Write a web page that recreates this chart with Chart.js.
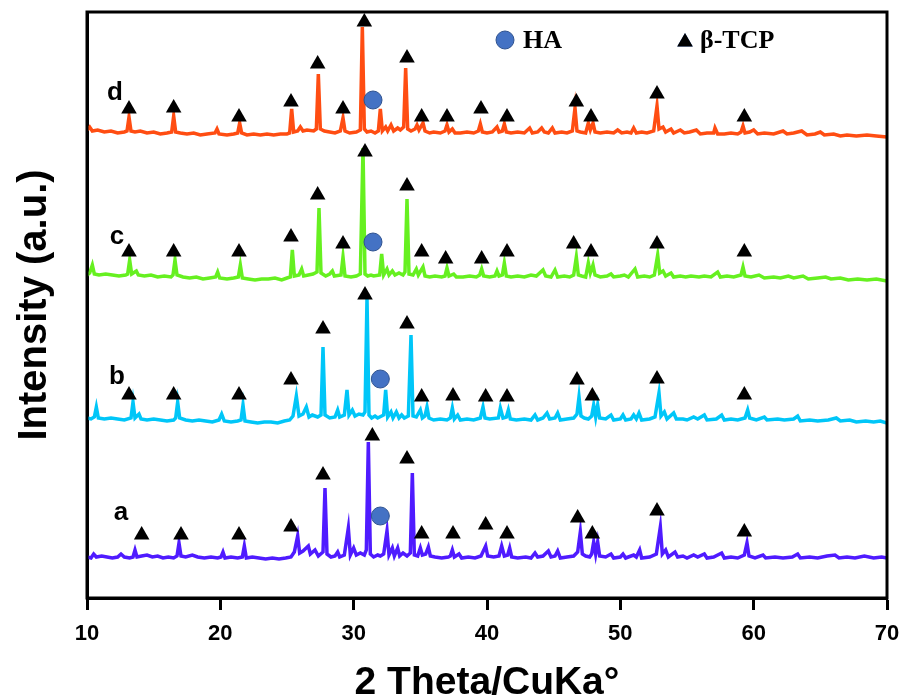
<!DOCTYPE html>
<html>
<head>
<meta charset="utf-8">
<script src="https://cdn.jsdelivr.net/npm/chart.js@4.4.1/dist/chart.umd.min.js"></script>
<style>
  html, body { margin: 0; padding: 0; background: #fff; }
  #wrap { width: 905px; height: 699px; }
</style>
</head>
<body>
<div id="wrap"><canvas id="xrd"></canvas></div>
<script>
// vertical offsets used to stack the patterns
const offsetA = 40, offsetB = 178, offsetC = 321, offsetD = 465;

// [2theta, intensity]
const traceA = [[10,1],[10.3,0],[10.5,4],[10.7,1],[11.1,2],[11.5,1],[11.9,0],[12.3,1],[12.55,4],[12.8,1],[13.2,0],[13.45,1],[13.6,8],[13.75,1],[14.1,2],[14.5,3],[14.9,1],[15.3,2],[15.7,0],[16.1,1],[16.5,0],[16.75,2],[16.9,15],[17.05,2],[17.4,1],[17.9,3],[18.3,1],[18.8,0],[19.3,1],[19.8,0],[20.05,1],[20.2,6],[20.35,0],[20.8,1],[21.3,0],[21.65,1],[21.8,12],[21.95,0],[22.4,1],[22.9,0],[23.4,-1],[23.9,0],[24.4,-1],[24.9,0],[25.3,1],[25.55,6],[25.8,22],[25.95,5],[26.2,7],[26.6,12],[26.75,4],[27.1,8],[27.35,2],[27.7,6],[27.85,70],[28,4],[28.3,1],[28.6,2],[28.8,6],[28.95,1],[29.3,3],[29.6,30],[29.75,3],[30,10],[30.2,3],[30.5,5],[30.8,3],[30.95,8],[31.1,116],[31.25,4],[31.5,1],[31.8,3],[32,2],[32.25,4],[32.5,27],[32.65,3],[32.9,10],[33.05,2],[33.3,10],[33.45,2],[33.7,5],[34,2],[34.25,5],[34.4,85],[34.55,3],[34.8,2],[35,10],[35.15,3],[35.4,4],[35.6,11],[35.75,2],[36.1,1],[36.6,0],[37.1,1],[37.25,2],[37.4,8],[37.55,1],[37.9,4],[38.1,0],[38.6,1],[39.1,0],[39.55,2],[39.9,12],[40.05,2],[40.5,1],[40.9,2],[41.1,12],[41.3,2],[41.55,3],[41.7,10],[41.85,1],[42.3,0],[42.9,1],[43.3,0],[43.6,5],[43.8,1],[44.2,2],[44.6,7],[44.8,1],[45.1,2],[45.3,7],[45.5,0],[46,1],[46.5,2],[46.8,6],[47,26],[47.15,4],[47.4,2],[47.7,1],[47.85,4],[48,16],[48.15,4],[48.3,16],[48.45,2],[48.9,1],[49.3,4],[49.5,0],[50,1],[50.2,4],[50.4,0],[51,3],[51.2,1],[51.45,8],[51.6,0],[52.2,1],[52.7,4],[53,31],[53.15,4],[53.4,8],[53.6,1],[54.1,6],[54.3,1],[54.7,2],[55,0],[55.5,3],[55.8,1],[56.3,4],[56.5,0],[57,1],[57.6,5],[57.8,0],[58.3,1],[58.8,0],[59.3,3],[59.5,15],[59.65,2],[60.1,0],[60.7,3],[60.9,0],[61.6,1],[62.2,0],[62.9,1],[63.3,4],[63.5,0],[64.2,1],[64.8,0],[65.5,2],[66.1,3],[66.4,0],[67,1],[67.6,0],[68.3,2],[69,0],[69.6,1],[70,0]];

const traceB = [[10,2],[10.3,1],[10.55,3],[10.7,13],[10.85,2],[11.3,1],[11.8,2],[12.3,1],[12.8,0],[13.3,2],[13.45,18],[13.6,2],[13.9,6],[14.05,1],[14.5,0],[15,1],[15.5,0],[16,-1],[16.5,0],[16.65,2],[16.8,18],[16.95,2],[17.4,0],[17.9,-1],[18.4,0],[18.9,-1],[19.4,-2],[19.9,0],[20.1,6],[20.3,-1],[20.8,-2],[21.3,-1],[21.55,0],[21.7,15],[21.85,-1],[22.3,-2],[22.8,-3],[23.3,-2],[23.8,-2],[24.3,-3],[24.8,-1],[25.2,0],[25.45,4],[25.7,24],[25.9,4],[26.2,6],[26.45,13],[26.65,3],[26.9,5],[27.3,3],[27.55,5],[27.7,73],[27.85,5],[28.2,2],[28.6,3],[28.8,10],[28.95,3],[29.3,5],[29.5,30],[29.65,5],[29.9,10],[30.1,4],[30.4,6],[30.7,5],[30.85,8],[31,122],[31.15,5],[31.35,2],[31.6,4],[31.8,2],[32.1,4],[32.25,5],[32.4,30],[32.55,3],[32.8,8],[32.95,2],[33.2,8],[33.4,2],[33.6,5],[33.8,2],[34.1,4],[34.3,85],[34.45,4],[34.7,3],[35,10],[35.15,2],[35.35,4],[35.5,13],[35.65,2],[36,0],[36.5,1],[37,0],[37.25,2],[37.4,12],[37.55,1],[37.8,5],[38,0],[38.5,1],[39,0],[39.5,2],[39.7,13],[39.85,2],[40.2,1],[40.85,2],[41,12],[41.2,2],[41.45,3],[41.6,10],[41.75,1],[42.2,0],[42.8,1],[43.3,0],[43.6,5],[43.8,0],[44.2,2],[44.5,7],[44.7,1],[45.1,2],[45.3,7],[45.5,0],[46,1],[46.5,2],[46.75,6],[46.9,23],[47.05,4],[47.3,2],[47.6,1],[47.85,4],[48,15],[48.15,3],[48.3,15],[48.45,2],[48.9,1],[49.3,5],[49.5,0],[50,1],[50.2,5],[50.4,0],[50.8,1],[51,5],[51.2,1],[51.4,7],[51.6,0],[52.2,1],[52.6,3],[52.9,27],[53.05,4],[53.3,8],[53.5,1],[54,7],[54.2,1],[54.7,1],[55,0],[55.5,3],[55.8,1],[56.3,5],[56.5,0],[57.2,1],[57.6,5],[57.8,0],[58.3,1],[58.8,0],[59.35,2],[59.55,10],[59.7,2],[60.2,0],[60.8,3],[61,0],[61.8,1],[62.3,0],[63,1],[63.3,4],[63.5,-1],[64.2,0],[64.8,-1],[65.6,0],[66.2,2],[66.5,-1],[67.2,0],[67.7,-2],[68.4,-1],[69,-2],[69.5,-1],[70,-3]];

const traceC = [[10,2],[10.2,4],[10.4,12],[10.55,3],[10.9,2],[11.4,3],[11.9,2],[12.4,1],[12.9,2],[13.05,3],[13.2,17],[13.35,3],[13.7,6],[13.85,2],[14.3,1],[14.8,2],[15.3,0],[15.8,1],[16.3,0],[16.45,2],[16.6,17],[16.75,2],[17.2,0],[17.7,-1],[18.2,0],[18.7,-2],[19.2,-1],[19.65,0],[19.8,5],[19.95,-1],[20.5,-2],[21,-1],[21.35,0],[21.5,12],[21.65,-1],[22.1,-2],[22.6,-3],[23.1,-2],[23.6,-2],[24.1,-1],[24.6,-3],[25,-1],[25.25,0],[25.4,27],[25.55,1],[25.9,2],[26.1,8],[26.25,1],[26.6,2],[26.95,3],[27.25,5],[27.4,69],[27.55,4],[27.9,1],[28.2,3],[28.4,6],[28.55,1],[29.05,2],[29.2,20],[29.35,1],[29.8,0],[30.2,1],[30.5,3],[30.7,129],[30.85,3],[31.05,1],[31.3,2],[31.5,1],[31.95,2],[32.1,23],[32.25,2],[32.5,8],[32.65,2],[32.9,6],[33.1,2],[33.4,4],[33.7,2],[33.85,5],[34,78],[34.15,3],[34.45,2],[34.7,8],[34.85,2],[35.2,10],[35.35,1],[35.7,0],[36.1,1],[36.6,0],[36.85,1],[37,9],[37.15,1],[37.5,3],[37.7,0],[38.2,0],[38.7,1],[39.2,0],[39.45,2],[39.6,8],[39.75,1],[40.2,0],[40.6,1],[40.75,6],[40.9,1],[41.15,2],[41.3,14],[41.45,1],[41.8,0],[42.3,1],[42.8,0],[43.3,2],[43.7,1],[44.2,7],[44.4,1],[44.8,0],[45.1,7],[45.3,0],[45.8,1],[46.2,0],[46.5,2],[46.7,20],[46.85,2],[47.1,1],[47.4,0],[47.6,14],[47.75,4],[47.95,12],[48.1,2],[48.5,0],[49,1],[49.3,3],[49.5,0],[50,1],[50.3,2],[50.6,0],[51.1,8],[51.3,0],[51.8,1],[52.2,0],[52.55,2],[52.8,22],[52.95,4],[53.2,6],[53.4,1],[53.8,4],[54,0],[54.5,1],[54.9,0],[55.3,1],[55.9,0],[56.3,1],[56.8,0],[57.3,5],[57.5,0],[58,1],[58.5,0],[59.05,2],[59.2,10],[59.35,1],[59.8,0],[60.4,2],[60.8,-1],[61.5,0],[62,-1],[62.6,1],[63,-1],[63.7,1],[64.1,-2],[64.8,-1],[65.4,0],[65.8,-2],[66.5,-1],[67.1,-3],[67.8,-2],[68.5,-3],[69.2,-2],[70,-4]];

const traceD = [[10,3],[10.2,6],[10.4,2],[10.8,3],[11.3,1],[11.8,2],[12.3,0],[12.8,1],[13,2],[13.15,16],[13.3,2],[13.6,1],[14,2],[14.5,0],[15,1],[15.5,-1],[16,0],[16.35,1],[16.5,17],[16.65,1],[17,0],[17.5,-1],[18,0],[18.5,-2],[19,-1],[19.6,0],[19.75,4],[19.9,-1],[20.5,-2],[21,-1],[21.3,0],[21.45,10],[21.6,0],[22,-2],[22.5,-1],[23,-2],[23.5,-1],[24,-2],[24.5,-1],[25,-1],[25.2,0],[25.35,24],[25.5,1],[25.8,2],[26,6],[26.2,2],[26.5,3],[27,2],[27.2,4],[27.35,59],[27.5,4],[27.8,2],[28.2,1],[28.6,0],[29,2],[29.2,15],[29.35,2],[29.7,0],[30.2,1],[30.5,3],[30.65,106],[30.8,4],[31,1],[31.3,2],[31.6,0],[31.85,2],[32,24],[32.15,2],[32.4,6],[32.55,2],[32.8,8],[33,2],[33.3,5],[33.5,3],[33.75,6],[33.9,65],[34.05,4],[34.3,2],[34.6,4],[34.75,8],[34.9,3],[35.2,10],[35.35,2],[35.7,0],[36,1],[36.5,0],[36.85,2],[37,8],[37.15,1],[37.4,4],[37.6,0],[38,0],[38.5,1],[39,0],[39.35,2],[39.5,9],[39.65,1],[40,0],[40.4,1],[40.75,6],[40.9,1],[41.15,2],[41.3,9],[41.45,1],[41.8,0],[42.3,1],[42.8,0],[43.2,5],[43.4,0],[43.8,1],[44.1,5],[44.3,1],[44.6,0],[44.9,5],[45.1,0],[45.6,1],[46,0],[46.4,2],[46.6,25],[46.75,2],[47,1],[47.4,0],[47.6,10],[47.75,3],[47.95,10],[48.1,1],[48.5,0],[49,1],[49.5,0],[49.8,3],[50.1,0],[50.5,1],[50.8,0],[51,5],[51.2,0],[51.6,1],[52,0],[52.5,2],[52.75,27],[52.9,4],[53.2,6],[53.4,1],[53.8,4],[54,0],[54.5,3],[54.8,0],[55.2,1],[55.7,3],[56,-1],[56.5,0],[57,0],[57.1,5],[57.3,-1],[57.8,-1],[58.3,0],[58.8,-1],[59.05,1],[59.2,7],[59.35,0],[59.7,1],[60,3],[60.3,-1],[60.8,0],[61.5,-1],[62.2,2],[62.5,-1],[63,0],[63.6,2],[64,-2],[64.6,-1],[65,1],[65.3,-2],[66,-1],[66.5,-3],[67,-2],[67.7,-3],[68.5,-2],[69.2,-3],[70,-4]];

// beta-TCP marks [2theta, y] and HA marks
const tcpA = [[14.1,63],[17.05,63],[21.4,63],[25.3,71],[27.7,123],[31.4,162],[34.0,139],[35.1,64],[37.45,64],[39.9,73],[41.5,64],[46.8,80],[47.9,64],[52.75,87],[59.3,66]];
const tcpB = [[13.15,203],[16.5,203],[21.4,203],[25.3,218],[27.7,269],[30.85,303],[34.0,274],[35.1,201],[37.45,202],[39.9,201],[41.5,201],[46.75,218],[47.9,202],[52.75,219],[59.3,203]];
const tcpC = [[13.15,346],[16.5,346],[21.4,346],[25.3,361],[27.3,403],[29.2,354],[30.85,446],[34.0,412],[35.1,346],[36.9,339],[39.6,339],[41.5,346],[46.5,354],[47.8,346],[52.75,354],[59.3,346]];
const tcpD = [[13.15,489],[16.5,490],[21.4,481],[25.3,496],[27.3,534],[29.2,489],[30.8,576],[34.0,540],[35.1,481],[37.0,481],[39.55,489],[41.5,481],[46.7,496],[47.8,481],[52.75,504],[59.3,481]];
const haMarks = [[32.0,82],[32.0,219],[31.45,356],[31.45,498]];

const sampleLabels = ['a', 'b', 'c', 'd'];
const sampleLabelPos = [[12.55,85],[12.25,221],[12.25,361],[12.1,505]];

const shift = (pts, off) => pts.map(p => ({x: p[0], y: p[1] + off}));
const asXY = pts => pts.map(p => ({x: p[0], y: p[1]}));

function traceSet(label, pts, off, color) {
    return {
        label: label,
        data: shift(pts, off),
        borderColor: color,
        borderWidth: 3.5,
        pointRadius: 0,
        tension: 0,
        order: 2
    };
}

const overlay = {
    id: 'overlay',
    afterDatasetsDraw(chart) {
        const ctx = chart.ctx;
        const xs = chart.scales.x, ys = chart.scales.y;
        const a = chart.chartArea;
        ctx.save();
        // frame
        ctx.strokeStyle = '#000';
        ctx.lineWidth = 3;
        ctx.strokeRect(a.left, a.top, a.right - a.left, a.bottom - a.top);
        // sample letters
        ctx.fillStyle = '#000';
        ctx.font = 'bold 26px "Liberation Sans", Arial, sans-serif';
        ctx.textAlign = 'center';
        ctx.textBaseline = 'middle';
        sampleLabels.forEach((s, i) => {
            ctx.fillText(s, xs.getPixelForValue(sampleLabelPos[i][0]), ys.getPixelForValue(sampleLabelPos[i][1]));
        });
        // legend
        const ly = a.top + 28;
        ctx.beginPath();
        ctx.arc(505, ly, 9, 0, Math.PI * 2);
        ctx.fillStyle = '#4472C4';
        ctx.fill();
        ctx.lineWidth = 1;
        ctx.strokeStyle = '#2F528F';
        ctx.stroke();
        Chart.helpers.drawPoint(ctx, {pointStyle: 'triangle', radius: 9, rotation: 0, borderWidth: 0}, 685, ly + 2);
        ctx.fillStyle = '#000';
        ctx.fill();
        ctx.font = 'bold 26px "Liberation Serif", "Times New Roman", serif';
        ctx.textAlign = 'left';
        ctx.fillText('HA', 523, ly + 1);
        ctx.fillText('\u03B2-TCP', 700, ly + 1);
        ctx.restore();
    }
};

const markerStyle = {
    showLine: false,
    pointStyle: 'triangle',
    pointRadius: 9,
    pointBackgroundColor: '#000',
    pointBorderColor: '#000',
    pointBorderWidth: 0,
    order: 1
};

new Chart(document.getElementById('xrd'), {
    type: 'line',
    data: {
        datasets: [
            traceSet('a', traceA, offsetA, '#4F1BFF'),
            traceSet('b', traceB, offsetB, '#00C6F8'),
            traceSet('c', traceC, offsetC, '#66F020'),
            traceSet('d', traceD, offsetD, '#FF4D12'),
            Object.assign({label: 'TCP a', data: asXY(tcpA)}, markerStyle),
            Object.assign({label: 'TCP b', data: asXY(tcpB)}, markerStyle),
            Object.assign({label: 'TCP c', data: asXY(tcpC)}, markerStyle),
            Object.assign({label: 'TCP d', data: asXY(tcpD)}, markerStyle),
            {
                label: 'HA',
                data: asXY(haMarks),
                showLine: false,
                pointStyle: 'circle',
                pointRadius: 9,
                pointBackgroundColor: '#4472C4',
                pointBorderColor: '#2F528F',
                pointBorderWidth: 1,
                order: 1
            }
        ]
    },
    options: {
        responsive: true,
        maintainAspectRatio: false,
        animation: false,
        devicePixelRatio: 1,
        layout: { padding: { top: 12, right: 18, left: 0, bottom: 0 } },
        plugins: {
            legend: { display: false },
            tooltip: { enabled: false }
        },
        scales: {
            x: {
                type: 'linear',
                min: 10,
                max: 70,
                afterFit: s => { s.height = 101; s.paddingLeft = 0; s.paddingRight = 0; },
                ticks: {
                    stepSize: 10,
                    padding: 11,
                    color: '#000',
                    font: { family: '"Liberation Sans", Arial', size: 22, weight: 'bold' }
                },
                grid: { drawOnChartArea: false, drawTicks: true, tickLength: 12, tickWidth: 3, tickColor: '#000' },
                border: { display: true, width: 3, color: '#000' },
                title: {
                    display: true,
                    text: '2 Theta/CuKa\u00B0',
                    color: '#000',
                    padding: { top: 4, bottom: -4 },
                    font: { family: '"Liberation Sans", Arial', size: 39, weight: 'bold', lineHeight: 1.0 }
                }
            },
            y: {
                min: 0,
                max: 586,
                afterFit: s => { s.width = 87; },
                ticks: { display: false },
                grid: { display: false },
                border: { display: true, width: 3, color: '#000' },
                title: {
                    display: true,
                    text: 'Intensity (a.u.)',
                    color: '#000',
                    padding: { top: 15, bottom: 0 },
                    font: { family: '"Liberation Sans", Arial', size: 40, weight: 'bold', lineHeight: 1.0 }
                }
            }
        }
    },
    plugins: [overlay]
});
</script>
</body>
</html>
